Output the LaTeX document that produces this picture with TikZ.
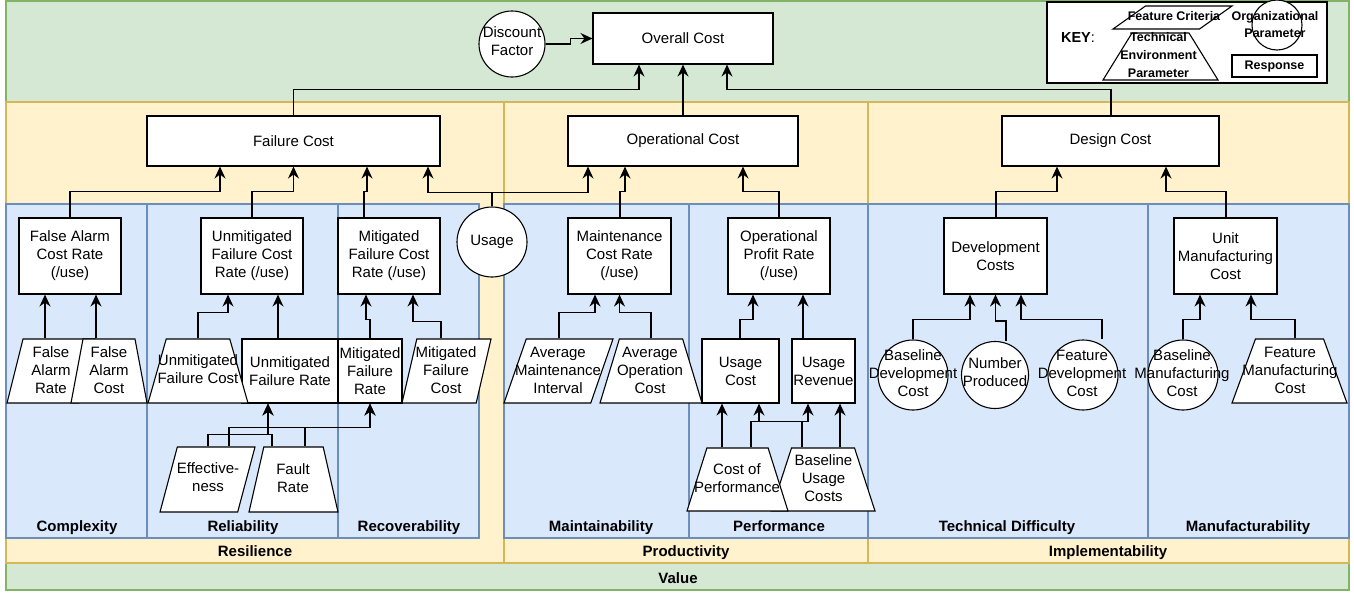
\documentclass[tikz,border=0pt]{standalone}
\usepackage{fontspec}
\setmainfont{Liberation Sans}
\usetikzlibrary{shapes.geometric,arrows.meta}
\definecolor{gfill}{HTML}{D5E8D4}
\definecolor{gline}{HTML}{82B366}
\definecolor{yfill}{HTML}{FFF2CC}
\definecolor{yline}{HTML}{D6B656}
\definecolor{bfill}{HTML}{DAE8FC}
\definecolor{bline}{HTML}{6C8EBF}
\newcommand\edge[5]{\draw[conn] ([xshift=#2pt]#1.north) -- ++(0,-#3) -| ([xshift=#5pt]#4.south);}
\begin{document}
\begin{tikzpicture}[x=1pt,y=-1pt,
  every node/.style={font=\fontsize{15}{18}\selectfont},
  resp/.style={draw, fill=white, line width=1.1pt, rectangle, inner sep=0pt, align=center},
  feat/.style={trapezium, draw, fill=white, line width=1.1pt, inner sep=2pt, trapezium stretches=true,
     trapezium left angle=#1, trapezium right angle={180-#1}},
  tech/.style={trapezium, draw, fill=white, line width=1.1pt, inner sep=2pt, trapezium stretches=true,
     trapezium angle=#1},
  circ/.style={circle, draw, fill=white, line width=1.1pt, inner sep=0pt, minimum size=#1},
  txt/.style={inner sep=0pt, align=center},
  lbl/.style={inner sep=0pt, anchor=base, font=\fontsize{15}{18}\selectfont\bfseries},
  keytxt/.style={inner sep=0pt, align=center, font=\fontsize{12.5}{18}\selectfont\bfseries},
  region/.style={line width=1.3pt},
  conn/.style={line width=1.3pt, -{Stealth[length=12pt,width=11pt,inset=4pt]}}]
\useasboundingbox (0,0) rectangle (1354,592);
% ---------- regions ----------
\path[region, fill=gfill, draw=gline] (6,1) rectangle (1349,590);
\path[region, fill=yfill, draw=yline] (6,102) rectangle (504,563);
\path[region, fill=yfill, draw=yline] (504,102) rectangle (868,563);
\path[region, fill=yfill, draw=yline] (868,102) rectangle (1349,563);
\path[region, fill=bfill, draw=bline] (6,204) rectangle (147,538);
\path[region, fill=bfill, draw=bline] (147,204) rectangle (338,538);
\path[region, fill=bfill, draw=bline] (338,204) rectangle (479,538);
\path[region, fill=bfill, draw=bline] (504,204) rectangle (689,538);
\path[region, fill=bfill, draw=bline] (689,204) rectangle (868,538);
\path[region, fill=bfill, draw=bline] (868,204) rectangle (1148,538);
\path[region, fill=bfill, draw=bline] (1148,204) rectangle (1349,538);
% ---------- labels ----------
\node[lbl] (l-cx) at (77,531.5) {Complexity};
\node[lbl] (l-rl) at (243,531.5) {Reliability};
\node[lbl] (l-rc) at (409,531.5) {Recoverability};
\node[lbl] (l-mt) at (601,531.5) {Maintainability};
\node[lbl] (l-pf) at (779,531.5) {Performance};
\node[lbl] (l-td) at (1007,531.5) {Technical Difficulty};
\node[lbl] (l-mf) at (1248,531.5) {Manufacturability};
\node[lbl] (l-rs) at (255,556.5) {Resilience};
\node[lbl] (l-pr) at (686,556.5) {Productivity};
\node[lbl] (l-im) at (1108,556.5) {Implementability};
\node[lbl] (l-va) at (678,583.5) {Value};
% ---------- key ----------
\node[draw, fill=white, line width=1.1pt, minimum width=280pt, minimum height=81pt, inner sep=0pt] (key) at (1187,42.5) {};
\node[keytxt, font=\fontsize{14.5}{18}\selectfont] (keylbl) at (1078,38) {\textbf{KEY}:};
\node[feat=59, minimum width=119pt, minimum height=23pt] (kfc) at (1172.5,17.5) {};
\node[tech=63, minimum width=115pt, minimum height=47pt] (kte) at (1160.5,56.5) {};
\node[circ=50pt] (kop) at (1277,25) {};
\node[resp, minimum width=85pt, minimum height=22pt, font=\fontsize{12.5}{18}\selectfont\bfseries] (kr) at (1274.5,66) {Response};
% ---------- response boxes ----------
\node[resp, minimum width=180pt, minimum height=51pt] (oc) at (683,38.5) {Overall Cost};
\node[resp, minimum width=293pt, minimum height=50pt] (fc) at (293.5,141) {Failure Cost};
\node[resp, minimum width=230pt, minimum height=50pt] (opc) at (683,141) {Operational Cost};
\node[resp, minimum width=217pt, minimum height=50pt] (dc) at (1110.5,141) {Design Cost};
\node[resp, minimum width=102pt, minimum height=76pt] (facr) at (70,256) {False Alarm\\Cost Rate\\(/use)};
\node[resp, minimum width=102pt, minimum height=76pt] (ufcr) at (252,256) {Unmitigated\\Failure Cost\\Rate (/use)};
\node[resp, minimum width=102pt, minimum height=76pt] (mfcr) at (389,256) {Mitigated\\Failure Cost\\Rate (/use)};
\node[resp, minimum width=103pt, minimum height=76pt] (mcr) at (619.5,256) {Maintenance\\Cost Rate\\(/use)};
\node[resp, minimum width=102pt, minimum height=76pt] (opr) at (779,256) {Operational\\Profit Rate\\(/use)};
\node[resp, minimum width=103pt, minimum height=76pt] (devc) at (995.5,256) {Development\\Costs};
\node[resp, minimum width=103pt, minimum height=76pt] (umc) at (1225.5,256) {Unit\\Manufacturing\\Cost};
\node[resp, minimum width=96pt, minimum height=64pt] (ufr) at (290,371) {Unmitigated\\Failure Rate};
\node[resp, minimum width=64pt, minimum height=64pt] (mfr) at (370,371) {Mitigated\\Failure\\Rate};
\node[resp, minimum width=77pt, minimum height=64pt] (uc) at (740.5,371) {Usage\\Cost};
\node[resp, minimum width=63pt, minimum height=64pt] (ur) at (823.5,371) {Usage\\Revenue};
% ---------- criteria / parameter shapes ----------
\node[feat=74, minimum width=88pt, minimum height=64pt] (far) at (51,371) {};
\node[tech=77, minimum width=76pt, minimum height=64pt] (fac) at (109,371) {};
\node[tech=74, minimum width=100pt, minimum height=64pt] (ufc) at (198,371) {};
\node[feat=76, minimum width=89pt, minimum height=64pt] (mfc) at (446.5,371) {};
\node[feat=74, minimum width=95pt, minimum height=65pt] (eff) at (207.5,479.5) {};
\node[tech=76, minimum width=89pt, minimum height=65pt] (fr) at (293.5,479.5) {};
\node[feat=71, minimum width=109pt, minimum height=64pt] (amint) at (558.5,371) {};
\node[tech=73, minimum width=102pt, minimum height=64pt] (aoc) at (651,371) {};
\node[tech=72, minimum width=104pt, minimum height=63pt] (buc) at (823,479.5) {};
\node[tech=72, minimum width=101pt, minimum height=63pt] (cop) at (737.5,479.5) {};
\node[tech=71, minimum width=115pt, minimum height=64pt] (fmc) at (1289.5,371) {};
\node[circ=66pt] (df) at (512,44) {};
\node[circ=70pt] (usage) at (492,242) {};
\node[circ=70pt] (bdc) at (913,375) {};
\node[circ=67pt] (np) at (995,375) {};
\node[circ=70pt] (fdc) at (1083,375) {};
\node[circ=70pt] (bmc) at (1183,375) {};
% ---------- connectors ----------
\draw[conn] (df.east) -- ++(25,0) |- (oc.west);
\edge{fc}{0}{26}{oc}{-44}
\edge{opc}{0}{0}{oc}{0}
\edge{dc}{0.5}{26}{oc}{44}
\edge{facr}{0}{26}{fc}{-73.5}
\edge{ufcr}{0}{26}{fc}{0}
\edge{mfcr}{-25}{26}{fc}{73.5}
\edge{usage}{0}{14}{fc}{134.5}
\edge{usage}{0}{14}{opc}{-95}
\edge{mcr}{0.5}{26}{opc}{-58}
\edge{opr}{0}{26}{opc}{60}
\edge{devc}{0.5}{26}{dc}{-53.5}
\edge{umc}{0.5}{26}{dc}{55.5}
\edge{far}{-6}{0}{facr}{-25}
\edge{fac}{-13}{0}{facr}{26}
\edge{ufc}{0}{26}{ufcr}{-24}
\edge{ufr}{-12}{0}{ufcr}{26}
\edge{mfr}{0}{19}{mfcr}{-23}
\edge{mfc}{-5.5}{17}{mfcr}{24}
\edge{eff}{0.5}{12}{ufr}{-22}
\edge{fr}{-21.5}{12}{ufr}{-22}
\edge{eff}{21.5}{19}{mfr}{0}
\edge{fr}{11.5}{19}{mfr}{0}
\edge{amint}{0.5}{26}{mcr}{-24.5}
\edge{aoc}{0}{26}{mcr}{0}
\edge{uc}{-0.5}{19}{opr}{-26}
\edge{ur}{-20.5}{0}{opr}{24}
\edge{cop}{-15.5}{0}{uc}{-18.5}
\edge{cop}{13.5}{26}{ur}{-15.5}
\edge{buc}{-21}{26}{uc}{18.5}
\edge{buc}{17}{0}{ur}{16.5}
\edge{bdc}{0}{20}{devc}{-25.5}
\edge{np}{11}{20}{devc}{0}
\edge{fdc}{19}{20}{devc}{25.5}
\edge{bmc}{0}{20}{umc}{-25.5}
\edge{fmc}{5.5}{19}{umc}{25.5}
% ---------- texts of shapes ----------
\node[txt] (df-t) at (512,41) {Discount\\Factor};
\node[txt] (usage-t) at (492,242) {Usage};
\node[txt] (far-t) at (51,370) {False\\Alarm\\Rate};
\node[txt] (fac-t) at (109,370) {False\\Alarm\\Cost};
\node[txt] (ufc-t) at (198,369.5) {Unmitigated\\Failure Cost};
\node[txt] (mfc-t) at (446,370) {Mitigated\\Failure\\Cost};
\node[txt] (eff-t) at (208,477.5) {Effective-\\ness};
\node[txt] (fr-t) at (293,478) {Fault\\Rate};
\node[txt] (amint-t) at (558,370) {Average\\Maintenance\\Interval};
\node[txt] (aoc-t) at (650,370) {Average\\Operation\\Cost};
\node[txt] (cop-t) at (737,478) {Cost of\\Performance};
\node[txt] (buc-t) at (823.5,478) {Baseline\\Usage\\Costs};
\node[txt] (bdc-t) at (913,373) {Baseline\\Development\\Cost};
\node[txt] (np-t) at (995,372) {Number\\Produced};
\node[txt] (fdc-t) at (1082,373) {Feature\\Development\\Cost};
\node[txt] (bmc-t) at (1182,373) {Baseline\\Manufacturing\\Cost};
\node[txt] (fmc-t) at (1290,370) {Feature\\Manufacturing\\Cost};
\node[keytxt] (kfc-t) at (1174,16) {Feature Criteria};
\node[keytxt] (kte-t) at (1158.5,55.5) {Technical\\Environment\\Parameter};
\node[keytxt, font=\fontsize{12.5}{17}\selectfont\bfseries] (kop-t) at (1275,25) {Organizational\\Parameter};
\end{tikzpicture}
\end{document}
